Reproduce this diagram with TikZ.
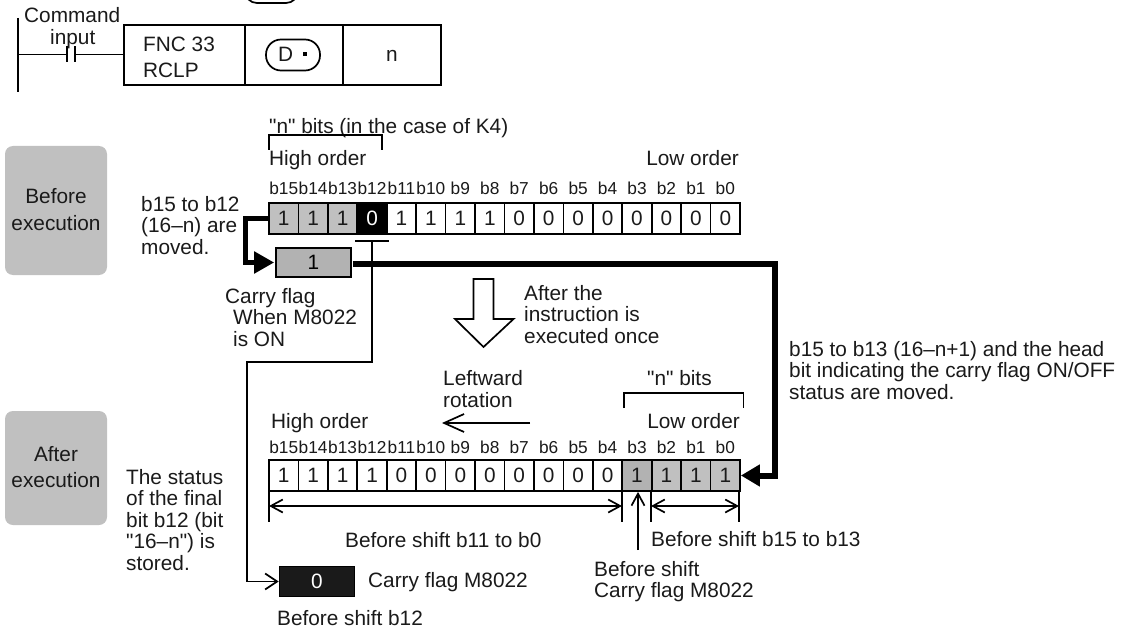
\documentclass[tikz,border=0pt]{standalone}
\usepackage{fontspec}
\setmainfont{Liberation Sans}[Ligatures=TeXOff]
\usetikzlibrary{arrows.meta,calc}
\definecolor{graya}{HTML}{C0C0C0}
\definecolor{grayb}{HTML}{B2B2B2}
\definecolor{inkc}{HTML}{1A1A1A}
\tikzset{
  txt/.style={anchor=base west,inner sep=0pt,font=\fontsize{20.8}{21.5}\selectfont,align=left,text=inkc},
  txtc/.style={anchor=base,inner sep=0pt,font=\fontsize{20.8}{26}\selectfont,align=center,text=inkc},
  bitlab/.style={anchor=base,inner sep=0pt,font=\fontsize{17.3}{18}\selectfont,text=inkc},
  cell/.style={draw=black,line width=1.7pt,minimum width=29.44pt,minimum height=31pt,inner sep=0pt,font=\fontsize{20.8}{21.5}\selectfont,text=inkc},
  thin line/.style={draw=black,line width=1.7pt},
  bar line/.style={draw=black,line width=1.7pt},
  heavyA/.style={draw=black,line width=5pt,line join=miter,-{Triangle[length=20pt,width=21pt]}},
  heavyB/.style={draw=black,line width=6pt,line join=miter,-{Triangle[length=19pt,width=21pt]}},
  openL/.style={-{Straight Barb[length=20pt,width=18pt]}},
  openM/.style={-{Straight Barb[length=12pt,width=16pt]}},
  openS/.style={-{Straight Barb[length=12pt,width=13pt]}},
  opendim/.style={{Straight Barb[length=12pt,width=13pt]}-{Straight Barb[length=12pt,width=13pt]}},
  phase/.style={fill=graya,rounded corners=8pt,draw=none},
  flag/.style={draw=black,line width=1.7pt,minimum height=29pt,minimum width=75pt,inner sep=0pt,font=\fontsize{20.8}{21.5}\selectfont},
  capsule/.style={draw=black,line width=1.7pt}
}
\begin{document}
\begin{tikzpicture}[x=1pt,y=-1pt]
\useasboundingbox (0,0) rectangle (1131,628);
\fill[white] (0,0) rectangle (1131,628);
% ---- cut-off capsule at top
\draw[capsule,rounded corners=12pt] (245,-30) rectangle (298,3);
% ---- ladder rung
\coordinate (railT) at (18,18);
\coordinate (railB) at (18,92);
\draw[thin line] (railT) -- (railB);
\node[txt] (cmd) at (24,23) {Command};
\node[txt] (inp) at (50,45) {input};
\node[draw=black,line width=1.7pt,minimum width=121pt,minimum height=60pt,inner sep=0pt] (fnc) at (184.5,55) {};
\node[draw=black,line width=1.7pt,minimum width=98pt,minimum height=60pt,inner sep=0pt] (dbox) at (294,55) {};
\node[draw=black,line width=1.7pt,minimum width=98pt,minimum height=60pt,inner sep=0pt] (nbox) at (392,55) {};
\node[txt] (fnct) at (143,52) {FNC 33};
\node[txt] (fncr) at (143,78) {RCLP};
\node[txtc] (nt) at (392,62) {n};
\node[draw=black,line width=1.7pt,rounded corners=15pt,minimum width=54pt,minimum height=31pt,inner sep=0pt] (dcap) at (293,55) {};
\node[txt] (dt) at (278,62) {D};
\node[fill=black,minimum size=4pt,inner sep=0pt] (dd) at (305,54) {};
\coordinate (ca) at (67,54.5);
\coordinate (cb) at (75,54.5);
\draw[thin line] (ca) ++(0,-8) -- ++(0,16);
\draw[thin line] (cb) ++(0,-8) -- ++(0,16);
\draw[thin line] (railT |- ca) -- (ca);
\draw[thin line] (cb) -- (fnc.west |- cb);
% ---- phase boxes
\draw[phase] (5,146) rectangle (107,275);
\node[txtc] (bef) at (56,230) {Before\\execution};
\draw[phase] (5,411) rectangle (107,525);
\node[txtc] (aft) at (56,487) {After\\execution};
% ---- first register
\foreach \i/\v/\c/\t in {0/1/graya/inkc,1/1/graya/inkc,2/1/graya/inkc,3/0/black/white,4/1/white/inkc,5/1/white/inkc,6/1/white/inkc,7/1/white/inkc,8/0/white/inkc,9/0/white/inkc,10/0/white/inkc,11/0/white/inkc,12/0/white/inkc,13/0/white/inkc,14/0/white/inkc,15/0/white/inkc}{
  \pgfmathsetmacro\cx{269+29.44*(\i+0.5)}
  \pgfmathtruncatemacro\b{15-\i}
  \node[cell,fill=\c,text=\t] (a\i) at (\cx,218.5) {\v};
  \node[bitlab] (al\i) at (\cx,195) {b\b};
}
% ---- second register
\foreach \i/\v/\c in {0/1/white,1/1/white,2/1/white,3/1/white,4/0/white,5/0/white,6/0/white,7/0/white,8/0/white,9/0/white,10/0/white,11/0/white,12/1/grayb,13/1/graya,14/1/graya,15/1/graya}{
  \pgfmathsetmacro\cx{269+29.44*(\i+0.5)}
  \pgfmathtruncatemacro\b{15-\i}
  \node[cell,fill=\c] (c\i) at (\cx,475.5) {\v};
  \node[bitlab] (cl\i) at (\cx,453) {b\b};
}
% ---- labels, first register
\node[txt] (nb1) at (269,134) {"n" bits (in the case of K4)};
\coordinate (b1l) at (269,150);
\coordinate (b1r) at (382,150);
\draw[bar line] (b1l) -- ++(0,-15) -| (b1r);
\node[txt] (hi1) at (269,166) {High order};
\node[txt,anchor=base east] (lo1) at (739,166) {Low order};
\node[txt] (t1) at (141,254.5) {b15 to b12\\(16–n) are\\moved.};
\node[flag,fill=grayb] (fl1) at (313.5,262.5) {1};
\draw[heavyA,shorten >=1pt] (a0.west) -- ++(-23,0) |- (fl1.west);
\coordinate (riser) at (774.5,264);
\draw[heavyB,shorten >=0pt] (fl1.east |- riser) ++(1,0) -- (riser) |- (c15.east);
\coordinate (tbar) at (372,241);
\draw[bar line] (tbar) ++(-17,0) -- ++(34,0);
\node[txt] (cf) at (225,303) {Carry flag};
\node[txt] (wh) at (233,346) {When M8022\\is ON};
% ---- hollow arrow
\coordinate (hol) at (483.5,279);
\draw[line width=1.7pt,line join=miter,fill=white] (hol) ++(-10,0) -- ++(20,0) -- ++(0,40) -- ++(20,0) -- ++(-30,28) -- ++(-28.5,-28) -- ++(18.5,0) -- cycle;
\node[txt] (aftt) at (524,343) {After the\\instruction is\\executed once};
% ---- right note
\node[txt] (rn) at (789,399) {b15 to b13 (16–n+1) and the head\\bit indicating the carry flag ON/OFF\\status are moved.};
% ---- second group labels
\node[txt] (lw) at (443,407) {Leftward\\rotation};
\coordinate (rotA) at (530,423);
\coordinate (rotB) at (442,423);
\draw[thin line,openL] (rotA) -- (rotB);
\node[txt] (nb2) at (647,385) {"n" bits};
\coordinate (b2l) at (624,408);
\coordinate (b2r) at (743.5,408);
\draw[bar line] (b2l) -- ++(0,-15) -| (b2r);
\node[txt] (hi2) at (271,428) {High order};
\node[txt,anchor=base east] (lo2) at (740,428) {Low order};
\node[txt] (stat) at (126,570) {The status\\of the final\\bit b12 (bit\\"16–n") is\\stored.};
% ---- dimensions
\coordinate (d1l) at (269,506);
\coordinate (d1r) at (622,506);
\coordinate (d2l) at (651,506);
\coordinate (d2r) at (739,506);
\draw[thin line] (d1l |- c0.south) -- ++(0,30);
\draw[thin line] (d1r |- c0.south) -- ++(0,30);
\draw[thin line] (d2l |- c0.south) -- ++(0,30);
\draw[thin line] (d2r |- c0.south) -- ++(0,30);
\draw[thin line,opendim] (d1l) -- (d1r);
\draw[thin line,opendim] (d2l) -- (d2r);
\coordinate (upf) at (638,550);
\draw[thin line,openS] (upf) -- (upf |- c12.south);
\node[txt] (sh1) at (345,547) {Before shift b11 to b0};
\node[txt] (sh2) at (651,546) {Before shift b15 to b13};
\node[txt] (sh3) at (594,597.5) {Before shift\\Carry flag M8022};
% ---- carry after
\node[flag,fill=inkc,text=white,minimum height=30pt,minimum width=75pt] (fl2) at (317,581.5) {0};
\coordinate (tk) at (372,362);
\coordinate (tl) at (247,362);
\draw[thin line,line join=miter,openM] (tbar) -- (tk) -- (tl) |- (fl2.west);
\node[txt] (cf2) at (368,587) {Carry flag M8022};
\node[txt] (bs) at (277,625) {Before shift b12};
\end{tikzpicture}
\end{document}
